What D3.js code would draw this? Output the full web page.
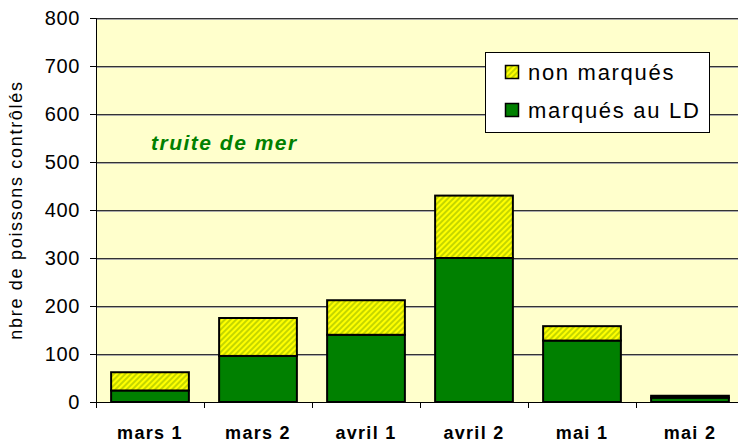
<!DOCTYPE html>
<html>
<head>
<meta charset="utf-8">
<script src="https://cdn.jsdelivr.net/npm/d3@7"></script>
<style>
  body { margin: 0; background: #fff; }
  text { font-family: "Liberation Sans", Arial, sans-serif; }
</style>
</head>
<body>
<div id="chart"></div>
<script>
const categories = ["mars 1", "mars 2", "avril 1", "avril 2", "mai 1", "mai 2"];
const marques = [24, 96, 140, 300, 128, 9];
const nonMarques = [38, 79, 72, 130, 30, 4];
const yTicks = [0, 100, 200, 300, 400, 500, 600, 700, 800];

const width = 738, height = 446;
const margin = {top: 18, right: -6, bottom: 44, left: 96};
const font = "Liberation Sans, Arial, sans-serif";

const svg = d3.select("#chart").append("svg")
  .attr("width", width).attr("height", height);

// stripes for "non marqués"
const defs = svg.append("defs");
const pat = defs.append("pattern")
  .attr("id", "hatch")
  .attr("patternUnits", "userSpaceOnUse")
  .attr("width", 4).attr("height", 4)
  .attr("patternTransform", "rotate(45)");
pat.append("rect").attr("width", 4).attr("height", 4).attr("fill", "#ffff00");
pat.append("rect").attr("width", 2).attr("height", 4).attr("fill", "#c4d600");

const x = d3.scaleBand()
  .domain(categories)
  .range([margin.left, width - margin.right])
  .paddingInner(0.28).paddingOuter(0.14);

const band = d3.scaleBand()
  .domain(categories)
  .range([margin.left, width - margin.right]);

const y = d3.scaleLinear()
  .domain([0, 800])
  .range([height - margin.bottom, margin.top]);

// plot background
svg.append("rect")
  .attr("x", margin.left).attr("y", margin.top)
  .attr("width", width - margin.right - margin.left)
  .attr("height", y(0) - margin.top)
  .attr("fill", "#ffffcc");

// gridlines
const grid = svg.append("g");
grid.selectAll("line.sh").data(yTicks.slice(1)).enter().append("line")
  .attr("x1", margin.left).attr("x2", width)
  .attr("y1", d => y(d) + 1.5).attr("y2", d => y(d) + 1.5)
  .attr("stroke", "#aaa").attr("stroke-width", 1);
grid.selectAll("line.gl").data(yTicks.slice(1)).enter().append("line")
  .attr("x1", margin.left).attr("x2", width)
  .attr("y1", d => y(d) + 0.5).attr("y2", d => y(d) + 0.5)
  .attr("stroke", "#333").attr("stroke-width", 1);

// bars
const data = categories.map((c, i) => ({c, m: marques[i], n: nonMarques[i]}));
const bars = svg.append("g");
bars.selectAll("rect.m").data(data).enter().append("rect")
  .attr("x", d => x(d.c)).attr("width", x.bandwidth())
  .attr("y", d => y(d.m)).attr("height", d => y(0) - y(d.m))
  .attr("fill", "#008000").attr("stroke", "#000").attr("stroke-width", 2);
bars.selectAll("rect.n").data(data).enter().append("rect")
  .attr("x", d => x(d.c)).attr("width", x.bandwidth())
  .attr("y", d => y(d.m + d.n)).attr("height", d => y(d.m) - y(d.m + d.n))
  .attr("fill", "url(#hatch)").attr("stroke", "#000").attr("stroke-width", 2);

// y axis
const yAxis = svg.append("g")
  .attr("transform", `translate(${margin.left},0)`)
  .call(d3.axisLeft(y).tickValues(yTicks).tickSize(6).tickPadding(10));
yAxis.select(".domain").attr("stroke", "#000");
yAxis.selectAll("line").attr("stroke", "#000");
yAxis.selectAll("text").attr("font-size", 20).attr("fill", "#000")
  .attr("letter-spacing", 0.6).style("font-family", font);

// x axis
const xAxis = svg.append("g")
  .attr("transform", `translate(0,${y(0)})`)
  .call(d3.axisBottom(band).tickSize(0).tickPadding(24));
xAxis.select(".domain").attr("stroke", "#000");
xAxis.selectAll("text").attr("font-size", 18).attr("font-weight", "bold").attr("fill", "#000")
  .attr("letter-spacing", 1.3).style("font-family", font);
xAxis.selectAll("line.sep").data(categories).enter().append("line")
  .attr("x1", d => band(d) + 0.5).attr("x2", d => band(d) + 0.5)
  .attr("y1", 0).attr("y2", 6).attr("stroke", "#000");

// y title
svg.append("text")
  .attr("transform", `translate(22,${(margin.top + y(0)) / 2}) rotate(-90)`)
  .attr("text-anchor", "middle")
  .attr("font-size", 18).attr("letter-spacing", 1.7)
  .text("nbre de poissons contrôlés");

// inner label
svg.append("text")
  .attr("x", 151).attr("y", 150)
  .attr("font-size", 21).attr("letter-spacing", 1.5)
  .attr("font-weight", "bold").attr("font-style", "italic")
  .attr("fill", "#008000")
  .text("truite de mer");

// legend
const legend = svg.append("g");
legend.append("rect")
  .attr("x", 485.5).attr("y", 52.5).attr("width", 224).attr("height", 80)
  .attr("fill", "#fff").attr("stroke", "#000");
const legItems = [
  {label: "non marqués", fill: "url(#hatch)"},
  {label: "marqués au LD", fill: "#008000"}
];
legItems.forEach((d, i) => {
  const cy = 72 + i * 38;
  legend.append("rect")
    .attr("x", 505.5).attr("y", cy - 6.5).attr("width", 13).attr("height", 13)
    .attr("fill", d.fill).attr("stroke", "#000").attr("stroke-width", 1.5);
  legend.append("text")
    .attr("x", 528).attr("y", cy + 8)
    .attr("font-size", 22).attr("letter-spacing", 1.7)
    .text(d.label);
});
</script>
</body>
</html>
